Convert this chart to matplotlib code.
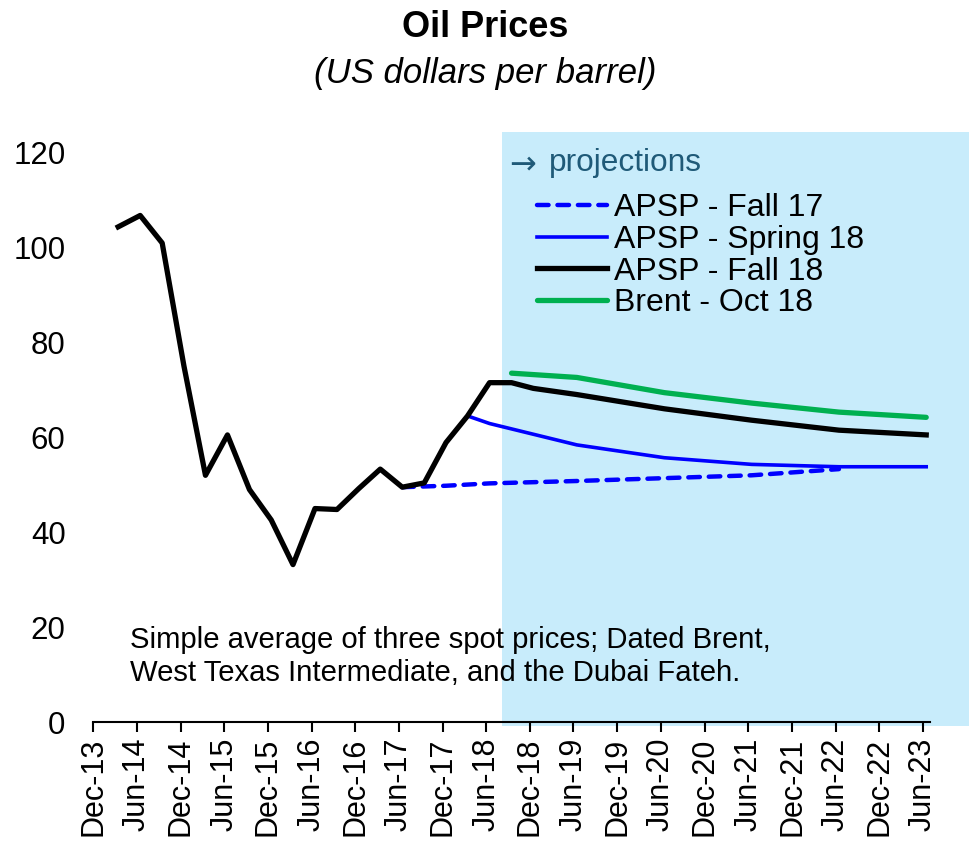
import pandas as pd
import matplotlib
matplotlib.use("Agg")
from matplotlib import pyplot as plt
import matplotlib.dates as mdates

plt.rcParams['font.family'] = ['Liberation Sans', 'DejaVu Sans']

# APSP - Fall 18: history up to Sep-18, then projection
fall18_dates = ["2014-03-15", "2014-06-15", "2014-09-15", "2014-12-15", "2015-03-15",
                "2015-06-15", "2015-09-15", "2015-12-15", "2016-03-15", "2016-06-15",
                "2016-09-15", "2016-12-15", "2017-03-15", "2017-06-15", "2017-09-15",
                "2017-12-15", "2018-03-15", "2018-06-15", "2018-09-15", "2018-12-15",
                "2019-06-15", "2020-06-15", "2021-06-15", "2022-06-15", "2023-06-15"]
fall18_values = [104.3, 106.7, 100.9, 75.0, 52.0,
                 60.5, 49.0, 42.6, 33.2, 45.0,
                 44.8, 49.2, 53.3, 49.5, 50.4,
                 58.9, 64.5, 71.5, 71.5, 70.3,
                 69.0, 66.0, 63.6, 61.5, 60.5]

fall17_dates = ["2017-06-15", "2017-12-15", "2018-06-15", "2019-06-15",
                "2020-06-15", "2021-06-15", "2022-06-15"]
fall17_values = [49.5, 49.8, 50.3, 50.8, 51.4, 52.0, 53.3]

spring18_dates = ["2018-03-15", "2018-06-15", "2019-06-15", "2020-06-15",
                  "2021-06-15", "2022-06-15", "2023-06-15"]
spring18_values = [64.5, 62.9, 58.4, 55.7, 54.3, 53.8, 53.8]

brent_dates = ["2018-09-15", "2019-06-15", "2020-06-15", "2021-06-15",
               "2022-06-15", "2023-06-15"]
brent_values = [73.5, 72.6, 69.4, 67.2, 65.3, 64.2]

shade_start = "2018-08-06"
shade_end = "2024-01-01"
x_start = "2013-12-01"
x_end = "2023-07-01"

note = ("Simple average of three spot prices; Dated Brent,\n"
        "West Texas Intermediate, and the Dubai Fateh.")

fig = plt.figure(figsize=(9.7, 8.46), dpi=100)
ax = fig.add_axes([0.0962, 0.1462, 0.8626, 0.6738])

span = ax.axvspan(pd.Timestamp(shade_start), pd.Timestamp(shade_end),
                  ymin=-0.006, ymax=1.035, color='#C8ECFB', zorder=0, lw=0)
span.set_clip_on(False)

ax.plot(pd.to_datetime(fall17_dates), fall17_values, color='#0000FF', lw=3.2,
        ls=(0, (2.6, 2.0)), dash_capstyle='round', label='APSP - Fall 17', zorder=3)
ax.plot(pd.to_datetime(spring18_dates), spring18_values, color='#0000FF', lw=2.6,
        label='APSP - Spring 18', zorder=3)
ax.plot(pd.to_datetime(fall18_dates), fall18_values, color='black', lw=3.8,
        label='APSP - Fall 18', zorder=4)
ax.plot(pd.to_datetime(brent_dates), brent_values, color='#00B050', lw=3.8,
        label='Brent - Oct 18', zorder=3, solid_capstyle='round')

ax.set_ylim(0, 120)
ax.set_yticks(range(0, 121, 20))
ax.set_xlim(pd.Timestamp(x_start), pd.Timestamp(x_end))
ax.set_xticks(pd.date_range(x_start, "2023-06-01", freq='6MS'))
ax.xaxis.set_major_formatter(mdates.DateFormatter('%b-%y'))

for s in ['top', 'right', 'left']:
    ax.spines[s].set_visible(False)
ax.spines['bottom'].set_linewidth(1.5)
ax.patch.set_alpha(0)

ax.tick_params(axis='y', length=0, pad=20, labelsize=22.5)
ax.tick_params(axis='x', length=7, width=1.5, pad=4, labelsize=22, labelrotation=90)

ax.text(0.0439, 0.115, note, transform=ax.transAxes, fontsize=21.1,
        va='center', ha='left', linespacing=1.24)

ax.text(0.4975, 0.977, "\u2192", transform=ax.transAxes, fontsize=23,
        family='DejaVu Sans', color='#1F5A78', va='center', ha='left')
ax.text(0.544, 0.981, "projections", transform=ax.transAxes, fontsize=22.8,
        color='#1F5A78', va='center', ha='left')

leg = ax.legend(loc='upper left', bbox_to_anchor=(0.530, 0.928), frameon=False,
                fontsize=23, handlelength=2.19, handletextpad=0.22,
                labelspacing=0.05, borderpad=0, borderaxespad=0)

fig.text(0.5, 0.968, "Oil Prices", ha='center', va='center', fontsize=26,
         fontweight='bold')
fig.text(0.5, 0.913, "(US dollars per barrel)", ha='center', va='center',
         fontsize=25, fontstyle='italic')

fig.savefig("out.png", dpi=100)
